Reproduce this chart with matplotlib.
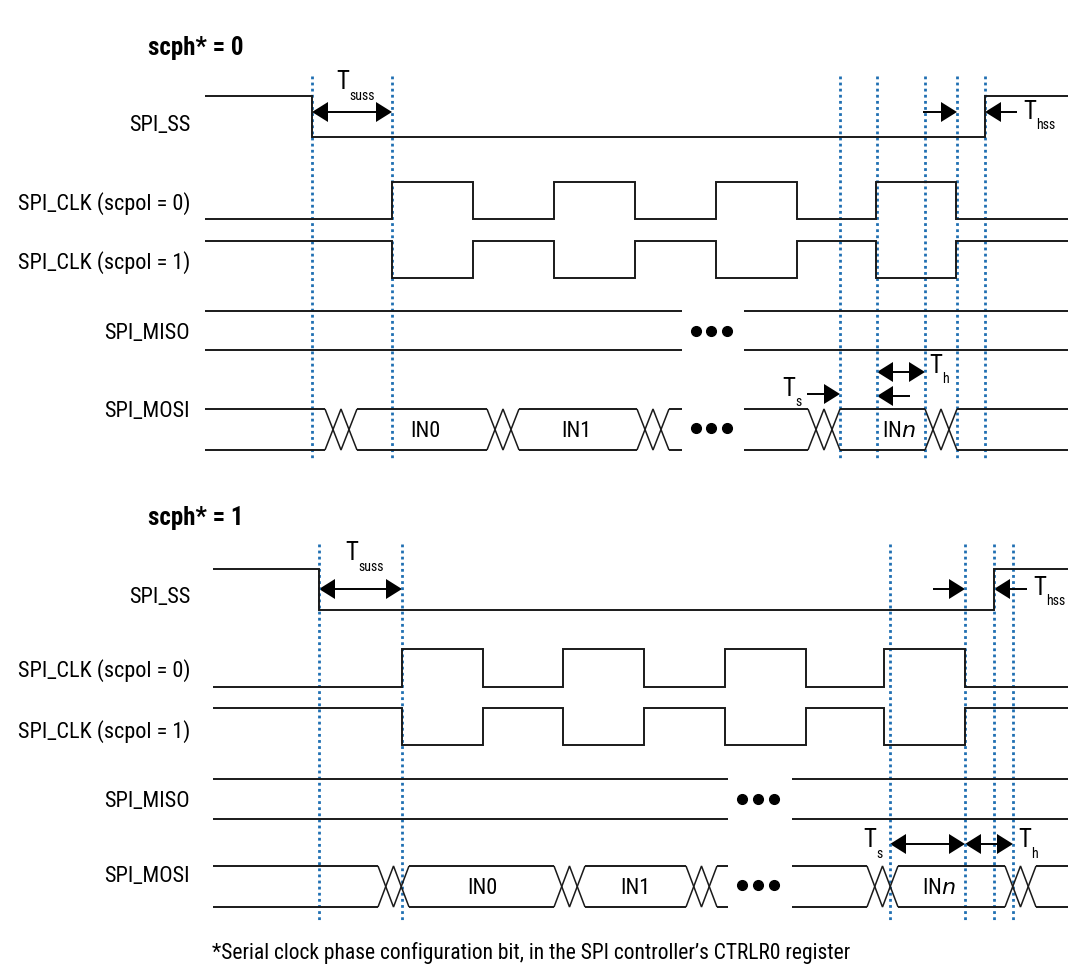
import matplotlib
matplotlib.use("Agg")
import matplotlib.pyplot as plt
from matplotlib import font_manager
from matplotlib.patches import Polygon

# ---------------- data (timing, in diagram time units) ----------------
signal_names = ["SPI_SS", "SPI_CLK (scpol = 0)", "SPI_CLK (scpol = 1)", "SPI_MISO", "SPI_MOSI"]
panel_titles = ["scph* = 0", "scph* = 1"]
bus_labels = ["IN0", "IN1", "IN$\\it{n}$"]
footnote = "*Serial clock phase configuration bit, in the SPI controller\u2019s CTRLR0 register"

# panel 1 (scph = 0)
p1_start = 205
p1_ss_fall, p1_ss_rise = 312, 985
p1_clk_edges = [392, 473, 554, 635, 716, 797, 876, 956]
p1_mosi_trans = [325, 487, 637, 808, 925]
p1_trans_w = 32
p1_gap = (682, 744)
p1_markers = [312, 392, 840, 877, 925, 957, 985]
p1_label_x = [425, 576, 899]

# panel 2 (scph = 1)
p2_start = 213
p2_ss_fall, p2_ss_rise = 319, 994
p2_clk_edges = [402, 483, 563, 644, 725, 806, 884, 965]
p2_mosi_trans = [378, 554, 686, 867, 1005]
p2_trans_w = 31
p2_gap = (728, 792)
p2_markers = [319, 402, 890, 965, 994, 1013]
p2_label_x = [482, 635, 939]

# ---------------- fonts ----------------
names = {f.name for f in font_manager.fontManager.ttflist}
fam = "DejaVu Sans"
for cand in ["Roboto Condensed", "Liberation Sans Narrow", "DejaVu Sans Condensed", "Open Sans Condensed", "Liberation Sans"]:
    if cand in names:
        fam = cand
        break
FONT = [fam, "DejaVu Sans"]

W, H = 1068, 970
fig = plt.figure(figsize=(W / 100, H / 100), dpi=100)
ax = fig.add_axes([0, 0, 1, 1])
ax.set_xlim(0, W)
ax.set_ylim(H, 0)
ax.axis("off")

LC = "#1a1a1a"
LW = 1.4
BLUE = "#1f6fb2"
END = 1068


def line(xs, ys, color=LC, lw=LW):
    ax.plot(xs, ys, color=color, lw=lw, solid_joinstyle="miter", solid_capstyle="butt")


def head(xtip, y, direction):
    L, Hh = 16, 10
    pts = [(xtip, y), (xtip - direction * L, y - Hh), (xtip - direction * L, y + Hh)]
    ax.add_patch(Polygon(pts, closed=True, color="black", lw=0))


def arrow(xtail, xtip, y):
    d = 1 if xtip > xtail else -1
    line([xtail, xtip - d * 10], [y, y], color="black", lw=1.4)
    head(xtip, y, d)


def darrow(x1, x2, y):
    line([x1 + 10, x2 - 10], [y, y], color="black", lw=1.4)
    head(x1, y, -1)
    head(x2, y, 1)


def tlabel(x, y, sub, subdx=12, subdy=14):
    ax.text(x, y, "T", family=FONT, fontsize=18, ha="center", va="center")
    ax.text(x + subdx - 6, y + subdy, sub, family=FONT, fontsize=10, ha="left", va="center")


def panel(y0, start, ss_fall, ss_rise, clk_edges, trans, tw, gap, markers, label_x,
          levels, vext, title, lab_dy):
    ss_hi, ss_lo, c0_hi, c0_lo, c1_hi, c1_lo, mi_top, mi_bot, mo_top, mo_bot = levels
    ax.text(148, y0, title, family=FONT, fontsize=18, fontweight="bold", ha="left", va="center")
    lab_y = [(ss_hi + ss_lo) / 2 + lab_dy[0], (c0_hi + c0_lo) / 2 + lab_dy[1],
             (c1_hi + c1_lo) / 2 + lab_dy[2], (mi_top + mi_bot) / 2 + lab_dy[3],
             mo_top + lab_dy[4]]
    for name, ly in zip(signal_names, lab_y):
        ax.text(190, ly, name, family=FONT, fontsize=16, ha="right", va="center")
    for xm in markers:
        ax.plot([xm, xm], vext, color=BLUE, lw=2.0, linestyle=(0, (1, 1.2)))
    # SS
    line([start, ss_fall, ss_fall, ss_rise, ss_rise, END], [ss_hi, ss_hi, ss_lo, ss_lo, ss_hi, ss_hi])
    # clocks
    xs, ys0, ys1 = [start], [c0_lo], [c1_hi]
    lvl = 0
    for e in clk_edges:
        xs += [e, e]
        new = 1 - lvl
        ys0 += [c0_hi if lvl else c0_lo, c0_hi if new else c0_lo]
        ys1 += [c1_lo if lvl else c1_hi, c1_lo if new else c1_hi]
        lvl = new
    xs.append(END)
    ys0.append(ys0[-1])
    ys1.append(ys1[-1])
    line(xs, ys0)
    line(xs, ys1)
    # MISO
    for yy in (mi_top, mi_bot):
        line([start, gap[0]], [yy, yy])
        line([gap[1], END], [yy, yy])
    for k in range(3):
        dx = (gap[1] - gap[0]) / 4 * (k + 1)
        ax.plot(gap[0] - 2 + dx, (mi_top + mi_bot) / 2, "o", color="black", ms=7)
        ax.plot(gap[0] - 2 + dx, (mo_top + mo_bot) / 2 - 2, "o", color="black", ms=7)
    # MOSI bus
    segs = []
    x = start
    for t in trans:
        if x < gap[0] < t:
            segs.append((x, gap[0]))
            x = gap[1]
        segs.append((x, t))
        x = t + tw
    segs.append((x, END))
    for a, b in segs:
        line([a, b], [mo_top, mo_top])
        line([a, b], [mo_bot, mo_bot])
    for t in trans:
        line([t, t + tw / 2, t + tw], [mo_top, mo_bot, mo_top], lw=1.1)
        line([t, t + tw / 2, t + tw], [mo_bot, mo_top, mo_bot], lw=1.1)
    mid = (mo_top + mo_bot) / 2
    for lbl, lx in zip(bus_labels, label_x):
        ax.text(lx, mid + 1, lbl, family=FONT, fontsize=16, ha="center", va="center")


# panel 1
panel(48, p1_start, p1_ss_fall, p1_ss_rise, p1_clk_edges, p1_mosi_trans, p1_trans_w, p1_gap,
      p1_markers, p1_label_x,
      (97, 138, 183, 220, 242, 279, 312, 351, 410, 451), (77, 460), panel_titles[0],
      (8, 2, 2, 2, 2))
darrow(p1_markers[0], p1_markers[1], 113)
tlabel(343, 82, "suss", subdy=14)
arrow(923, p1_markers[5], 113)
arrow(1017, p1_markers[6], 113)
tlabel(1030, 112, "hss", subdy=13)
arrow(807, p1_markers[2], 395)
tlabel(789, 389, "s", subdy=13)
darrow(p1_markers[3], p1_markers[4], 373)
arrow(910, p1_markers[3], 397)
tlabel(936, 366, "h", subdy=13)

# panel 2
panel(518, p2_start, p2_ss_fall, p2_ss_rise, p2_clk_edges, p2_mosi_trans, p2_trans_w, p2_gap,
      p2_markers, p2_label_x,
      (570, 611, 650, 688, 709, 746, 780, 820, 867, 908), (545, 922), panel_titles[1],
      (7, 2, 4, 2, 10))
darrow(p2_markers[0], p2_markers[1], 590)
tlabel(352, 553, "suss", subdy=14)
arrow(933, p2_markers[3], 590)
arrow(1027, p2_markers[4], 590)
tlabel(1040, 588, "hss", subdy=13)
darrow(p2_markers[2], p2_markers[3], 845)
darrow(p2_markers[3], p2_markers[5], 845)
tlabel(870, 840, "s", subdy=14)
tlabel(1025, 840, "h", subdy=14)

ax.text(212, 953, footnote, family=FONT, fontsize=15.5, ha="left", va="center")

fig.savefig("out.png", dpi=100)
